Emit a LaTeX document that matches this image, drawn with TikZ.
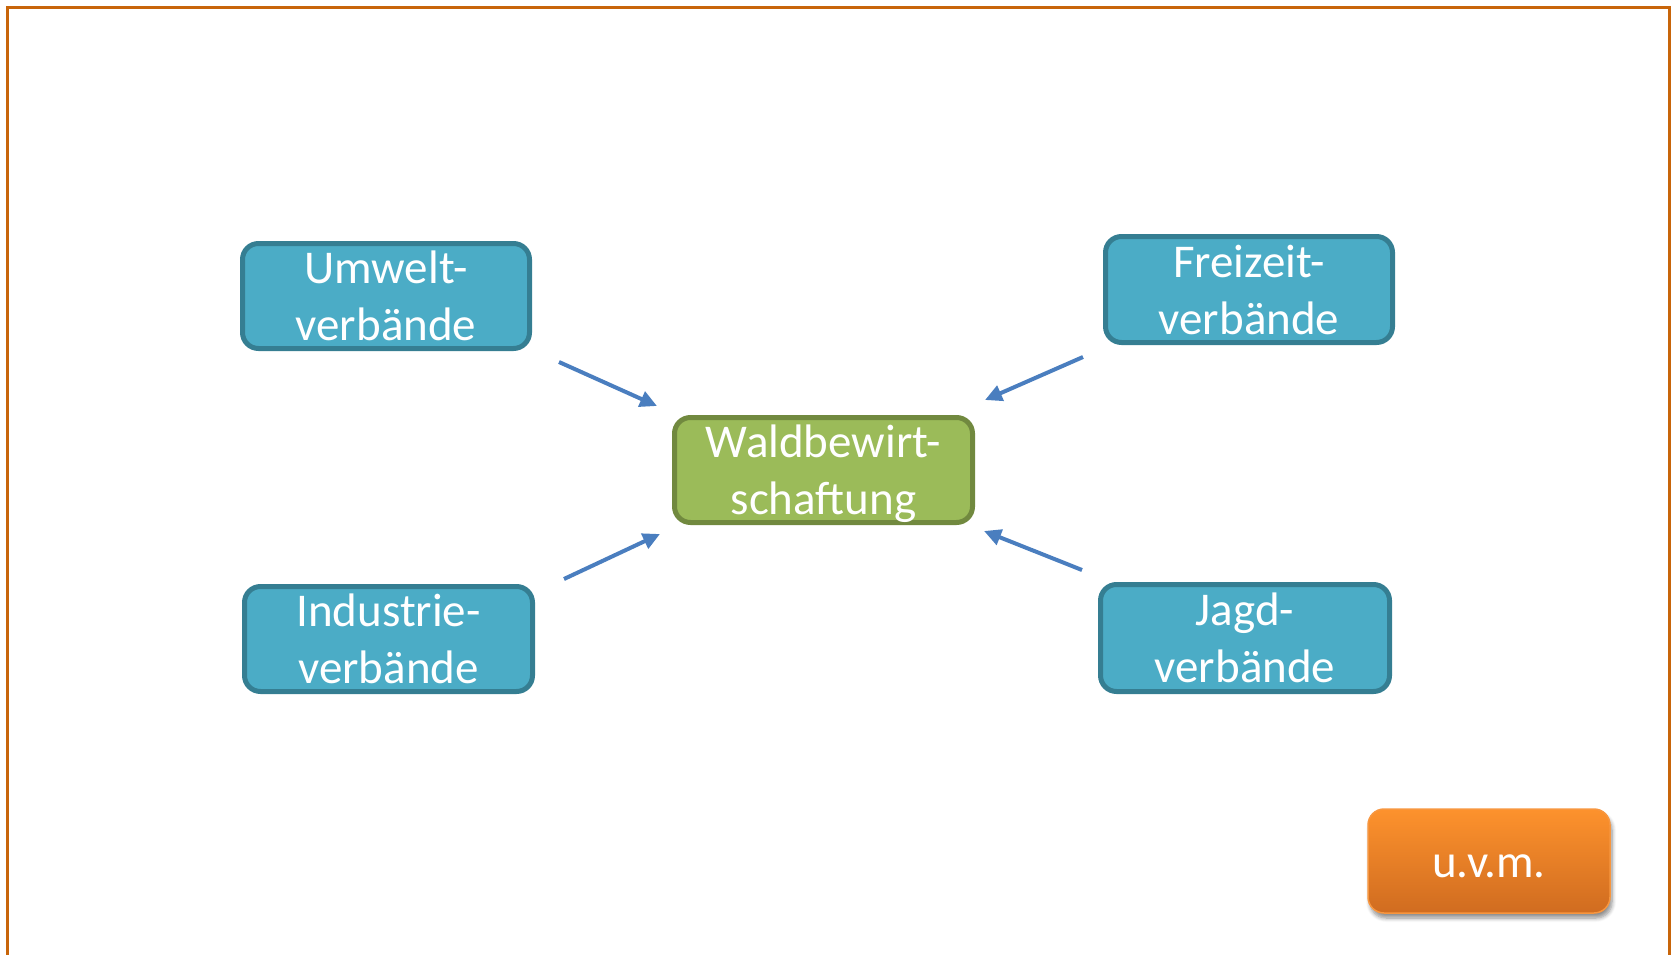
\documentclass[tikz,border=0pt]{standalone}
\usepackage{fontspec}
\setmainfont{Carlito}
\usetikzlibrary{arrows.meta,shadows.blur}
\definecolor{framec}{HTML}{C8650A}
\definecolor{bluefill}{HTML}{4BACC6}
\definecolor{blueline}{HTML}{357E92}
\definecolor{greenfill}{HTML}{9BBB59}
\definecolor{greenline}{HTML}{71893F}
\definecolor{arrowc}{HTML}{4A7EBF}
\definecolor{orangetop}{HTML}{FD922D}
\definecolor{orangebot}{HTML}{D06C20}
\definecolor{orangeline}{HTML}{F7963F}
\tikzset{
  boxbase/.style={rectangle, rounded corners=16pt, line width=5pt, inner sep=0pt,
    text=white, align=center, text depth=0pt,
    font=\fontsize{47}{57}\selectfont},
  bluebox/.style={boxbase, fill=bluefill, draw=blueline},
  greenbox/.style={boxbase, fill=greenfill, draw=greenline},
  orangebox/.style={rectangle, rounded corners=16pt, line width=1.5pt, draw=orangeline,
    top color=orangetop, bottom color=orangebot, text=white, inner sep=0pt,
    text height=33pt, text depth=0pt, font=\fontsize{47}{57}\selectfont,
    blur shadow={shadow xshift=2pt, shadow yshift=-5pt, shadow blur radius=4pt, shadow blur steps=6, shadow opacity=45}},
  conn/.style={draw=arrowc, line width=4pt, -{Triangle[length=17pt,width=16pt]}},
}
\begin{document}
\begin{tikzpicture}[x=1pt,y=-1pt]
\useasboundingbox (0,0) rectangle (1672,955);
\draw[framec, line width=3pt] (7.5,975) -- (7.5,7.5) -- (1669.5,7.5) -- (1669.5,975);

\node[bluebox, minimum width=287pt, minimum height=105pt] (umwelt) at (386,296) {Umwelt-\\verbände};
\node[bluebox, minimum width=287pt, minimum height=106pt] (freizeit) at (1249,289.5) {Freizeit-\\verbände};
\node[bluebox, minimum width=288pt, minimum height=105pt] (industrie) at (388.5,639) {Industrie-\\verbände};
\node[bluebox, minimum width=289pt, minimum height=107pt] (jagd) at (1245,638) {Jagd-\\verbände};
\node[greenbox, minimum width=298pt, minimum height=105pt] (wald) at (823.5,470) {Waldbewirt-\\schaftung};
\node[orangebox, minimum width=242pt, minimum height=104pt] (uvm) at (1489,861) {u.v.m.};

\coordinate (a1s) at (559,362);
\coordinate (a1e) at (657,406);
\coordinate (a2s) at (1083,357);
\coordinate (a2e) at (985,400);
\coordinate (a3s) at (564,579);
\coordinate (a3e) at (660,534);
\coordinate (a4s) at (1082,570);
\coordinate (a4e) at (984,531);

\draw[conn] (a1s) -- (a1e);
\draw[conn] (a2s) -- (a2e);
\draw[conn] (a3s) -- (a3e);
\draw[conn] (a4s) -- (a4e);
\end{tikzpicture}
\end{document}
